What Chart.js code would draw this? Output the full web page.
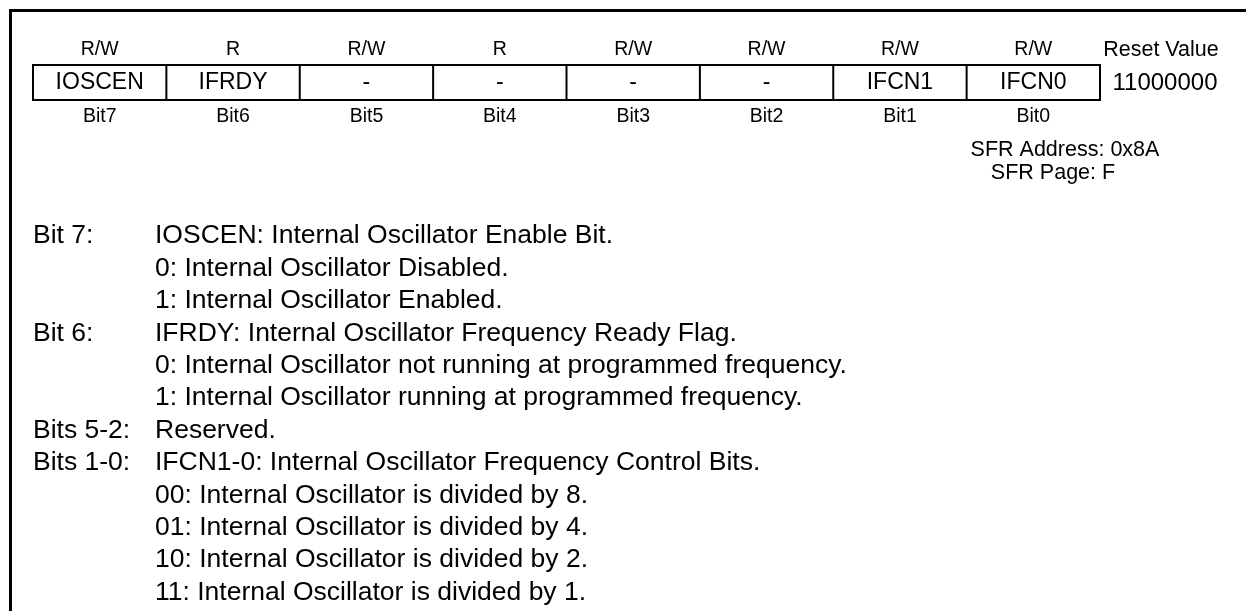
<!DOCTYPE html>
<html>
<head>
<meta charset="utf-8">
<script src="https://cdn.jsdelivr.net/npm/chart.js@4/dist/chart.umd.min.js"></script>
<style>
    html, body { margin: 0; padding: 0; background: #fff; font-family: "Liberation Sans", Arial, sans-serif; }
    #wrap { width: 1246px; height: 611px; position: relative; }
</style>
</head>
<body>
<div id="wrap"><canvas id="regChart"></canvas></div>
<script>
// register contents, bit 7 first
const accessTypes = ['R/W', 'R', 'R/W', 'R', 'R/W', 'R/W', 'R/W', 'R/W'];
const fieldNames = ['IOSCEN', 'IFRDY', '-', '-', '-', '-', 'IFCN1', 'IFCN0'];
const bitLabels = ['Bit7', 'Bit6', 'Bit5', 'Bit4', 'Bit3', 'Bit2', 'Bit1', 'Bit0'];
const resetTitle = 'Reset Value';
const resetValue = '11000000';
const sfrInfo = ['SFR Address: 0x8A', 'SFR Page: F'];

const descLabels = ['Bit 7:', '', '', 'Bit 6:', '', '', 'Bits 5-2:', 'Bits 1-0:', '', '', '', ''];
const descTexts = [
    'IOSCEN: Internal Oscillator Enable Bit.',
    '0: Internal Oscillator Disabled.',
    '1: Internal Oscillator Enabled.',
    'IFRDY: Internal Oscillator Frequency Ready Flag.',
    '0: Internal Oscillator not running at programmed frequency.',
    '1: Internal Oscillator running at programmed frequency.',
    'Reserved.',
    'IFCN1-0: Internal Oscillator Frequency Control Bits.',
    '00: Internal Oscillator is divided by 8.',
    '01: Internal Oscillator is divided by 4.',
    '10: Internal Oscillator is divided by 2.',
    '11: Internal Oscillator is divided by 1.'
];

const FONT = '"Liberation Sans", Arial, Helvetica, sans-serif';

const registerPlugin = {
    id: 'register',
    afterDraw(chart) {
        const ctx = chart.ctx;
        const xs = chart.scales.x;
        const ys = chart.scales.y;
        const px = v => xs.getPixelForValue(v);
        const py = v => ys.getPixelForValue(v);

        ctx.save();
        ctx.fillStyle = '#000';
        ctx.strokeStyle = '#000';

        // outer frame (only top and left show in the crop)
        ctx.lineWidth = 3;
        ctx.beginPath();
        ctx.moveTo(px(10.5), py(611));
        ctx.lineTo(px(10.5), py(10.5));
        ctx.lineTo(px(1246), py(10.5));
        ctx.stroke();

        // bit table
        const left = 33, colW = 133.375, top = 65, bottom = 100;
        ctx.lineWidth = 2;
        ctx.strokeRect(px(left), py(top), px(left + colW * 8) - px(left), py(bottom) - py(top));
        for (let i = 1; i < 8; i++) {
            ctx.beginPath();
            ctx.moveTo(px(left + colW * i), py(top));
            ctx.lineTo(px(left + colW * i), py(bottom));
            ctx.stroke();
        }

        ctx.textAlign = 'center';
        ctx.textBaseline = 'middle';
        accessTypes.forEach((t, i) => {
            const cx = left + colW * (i + 0.5);
            ctx.font = '19.5px ' + FONT;
            ctx.fillText(t, px(cx), py(50));
            ctx.fillText(bitLabels[i], px(cx), py(117));
            ctx.font = '23px ' + FONT;
            ctx.fillText(fieldNames[i], px(cx), py(83));
        });

        ctx.font = '21.5px ' + FONT;
        ctx.fillText(resetTitle, px(1161), py(50));
        ctx.font = '24px ' + FONT;
        ctx.fillText(resetValue, px(1165), py(83));

        ctx.font = '21.5px ' + FONT;
        ctx.fillText(sfrInfo[0], px(1065), py(150));
        ctx.fillText(sfrInfo[1], px(1053), py(173));

        // bit descriptions
        ctx.textAlign = 'left';
        ctx.font = '26.5px ' + FONT;
        descTexts.forEach((t, i) => {
            const y = 236 + i * 32.4;
            if (descLabels[i]) ctx.fillText(descLabels[i], px(33), py(y));
            ctx.fillText(t, px(155), py(y));
        });
        ctx.restore();
    }
};

function drawChart() {
    new Chart(document.getElementById('regChart'), {
        type: 'scatter',
        data: { datasets: [{ data: [] }] },
        options: {
            responsive: true,
            maintainAspectRatio: false,
            animation: false,
            layout: { padding: 0 },
            plugins: { legend: { display: false }, tooltip: { enabled: false } },
            scales: {
                x: { type: 'linear', min: 0, max: 1246, display: false },
                y: { type: 'linear', min: 0, max: 611, reverse: true, display: false }
            }
        },
        plugins: [registerPlugin]
    });
}

document.fonts.load('20px "Liberation Sans"').then(drawChart, drawChart);
</script>
</body>
</html>
